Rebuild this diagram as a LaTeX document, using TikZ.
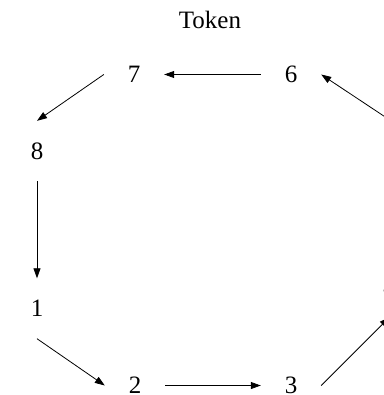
\documentclass[tikz,border=0pt]{standalone}
\usepackage{fontspec}
\setmainfont{Liberation Serif}
\usetikzlibrary{arrows.meta}
\begin{document}
\begin{tikzpicture}[x=1pt,y=-1pt,
  lbl/.style={font=\fontsize{25}{30}\selectfont},
  ringnode/.style={lbl, rectangle, minimum width=60pt, minimum height=60pt, inner sep=0pt},
  ringedge/.style={-{Triangle[length=10pt,width=7pt]}, line width=0.8pt}]
\useasboundingbox (0,0) rectangle (383,395);
% title
\node[lbl, anchor=base] (token) at (210,29) {Token};
% ring of eight stations
\node[ringnode] (n1) at (37,308.5) {1};
\node[ringnode] (n2) at (135,385.5) {2};
\node[ringnode] (n3) at (291,385.5) {3};
\node[ringnode] (n4) at (389.5,287) {4};
\node[ringnode] (n5) at (391,151) {5};
\node[ringnode] (n6) at (291,74.5) {6};
\node[ringnode] (n7) at (134,74.5) {7};
\node[ringnode] (n8) at (37,151) {8};
% token passing direction
\draw[ringedge] (n1.south) -- (n2.west);
\draw[ringedge] (n2.east) -- (n3.west);
\draw[ringedge] (n3.east) -- (n4.south);
\draw[ringedge] (n4.north) -- (n5.south);
\draw[ringedge] (n5.north) -- (n6.east);
\draw[ringedge] (n6.west) -- (n7.east);
\draw[ringedge] (n7.west) -- (n8.north);
\draw[ringedge] (n8.south) -- (n1.north);
\end{tikzpicture}
\end{document}
